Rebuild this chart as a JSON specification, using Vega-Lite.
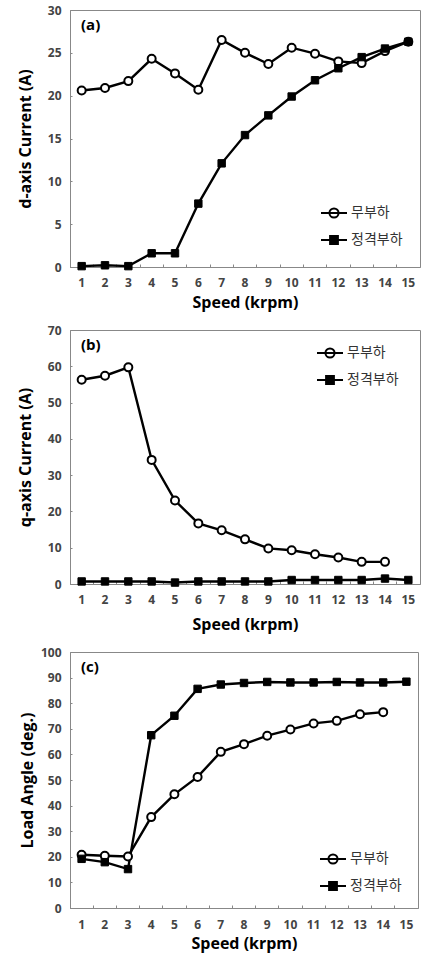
{
  "$schema": "https://vega.github.io/schema/vega-lite/v6.json",
  "background": "white",
  "padding": {"top": 3, "left": 16, "right": 2, "bottom": 2},
  "spacing": 12,
  "resolve": {
    "scale": {"shape": "independent", "fill": "independent", "stroke": "independent"},
    "legend": {"shape": "independent", "fill": "independent", "stroke": "independent"}
  },
  "config": {
    "view": {"stroke": "#888", "strokeWidth": 1},
    "axis": {
      "domainColor": "#888", "tickColor": "#888", "grid": false,
      "labelFont": "Open Sans", "labelFontSize": 12, "labelFontWeight": "bold", "labelColor": "#444",
      "titleFont": "Open Sans", "titleFontSize": 16, "titleFontWeight": "bold", "titleColor": "black"
    },
    "legend": {"title": null, "symbolSize": 676, "symbolStrokeWidth": 2, "symbolStrokeColor": "black", "symbolOpacity": 1, "labelFont": "Noto Sans CJK KR", "labelFontSize": 14, "labelColor": "#333", "labelOffset": 3, "rowPadding": 4, "padding": 0},
    "title": {"font": "Open Sans", "fontSize": 15, "fontWeight": "bold", "color": "black", "anchor": "start", "frame": "group"}
  },
  "data": {"values": [
    {"panel": "a", "series": "무부하", "speed": 1, "value": 20.6},
    {"panel": "a", "series": "무부하", "speed": 2, "value": 20.9},
    {"panel": "a", "series": "무부하", "speed": 3, "value": 21.7},
    {"panel": "a", "series": "무부하", "speed": 4, "value": 24.3},
    {"panel": "a", "series": "무부하", "speed": 5, "value": 22.6},
    {"panel": "a", "series": "무부하", "speed": 6, "value": 20.7},
    {"panel": "a", "series": "무부하", "speed": 7, "value": 26.5},
    {"panel": "a", "series": "무부하", "speed": 8, "value": 25.0},
    {"panel": "a", "series": "무부하", "speed": 9, "value": 23.7},
    {"panel": "a", "series": "무부하", "speed": 10, "value": 25.6},
    {"panel": "a", "series": "무부하", "speed": 11, "value": 24.9},
    {"panel": "a", "series": "무부하", "speed": 12, "value": 24.0},
    {"panel": "a", "series": "무부하", "speed": 13, "value": 23.8},
    {"panel": "a", "series": "무부하", "speed": 14, "value": 25.2},
    {"panel": "a", "series": "무부하", "speed": 15, "value": 26.3},
    {"panel": "a", "series": "정격부하", "speed": 1, "value": 0.1},
    {"panel": "a", "series": "정격부하", "speed": 2, "value": 0.2},
    {"panel": "a", "series": "정격부하", "speed": 3, "value": 0.1},
    {"panel": "a", "series": "정격부하", "speed": 4, "value": 1.6},
    {"panel": "a", "series": "정격부하", "speed": 5, "value": 1.6},
    {"panel": "a", "series": "정격부하", "speed": 6, "value": 7.4},
    {"panel": "a", "series": "정격부하", "speed": 7, "value": 12.1},
    {"panel": "a", "series": "정격부하", "speed": 8, "value": 15.4},
    {"panel": "a", "series": "정격부하", "speed": 9, "value": 17.7},
    {"panel": "a", "series": "정격부하", "speed": 10, "value": 19.9},
    {"panel": "a", "series": "정격부하", "speed": 11, "value": 21.8},
    {"panel": "a", "series": "정격부하", "speed": 12, "value": 23.2},
    {"panel": "a", "series": "정격부하", "speed": 13, "value": 24.5},
    {"panel": "a", "series": "정격부하", "speed": 14, "value": 25.5},
    {"panel": "a", "series": "정격부하", "speed": 15, "value": 26.3},
    {"panel": "b", "series": "무부하", "speed": 1, "value": 56.3},
    {"panel": "b", "series": "무부하", "speed": 2, "value": 57.4},
    {"panel": "b", "series": "무부하", "speed": 3, "value": 59.7},
    {"panel": "b", "series": "무부하", "speed": 4, "value": 34.2},
    {"panel": "b", "series": "무부하", "speed": 5, "value": 23.0},
    {"panel": "b", "series": "무부하", "speed": 6, "value": 16.7},
    {"panel": "b", "series": "무부하", "speed": 7, "value": 14.8},
    {"panel": "b", "series": "무부하", "speed": 8, "value": 12.3},
    {"panel": "b", "series": "무부하", "speed": 9, "value": 9.8},
    {"panel": "b", "series": "무부하", "speed": 10, "value": 9.3},
    {"panel": "b", "series": "무부하", "speed": 11, "value": 8.2},
    {"panel": "b", "series": "무부하", "speed": 12, "value": 7.3},
    {"panel": "b", "series": "무부하", "speed": 13, "value": 6.1},
    {"panel": "b", "series": "무부하", "speed": 14, "value": 6.1},
    {"panel": "b", "series": "정격부하", "speed": 1, "value": 0.7},
    {"panel": "b", "series": "정격부하", "speed": 2, "value": 0.7},
    {"panel": "b", "series": "정격부하", "speed": 3, "value": 0.7},
    {"panel": "b", "series": "정격부하", "speed": 4, "value": 0.7},
    {"panel": "b", "series": "정격부하", "speed": 5, "value": 0.4},
    {"panel": "b", "series": "정격부하", "speed": 6, "value": 0.7},
    {"panel": "b", "series": "정격부하", "speed": 7, "value": 0.7},
    {"panel": "b", "series": "정격부하", "speed": 8, "value": 0.7},
    {"panel": "b", "series": "정격부하", "speed": 9, "value": 0.7},
    {"panel": "b", "series": "정격부하", "speed": 10, "value": 1.1},
    {"panel": "b", "series": "정격부하", "speed": 11, "value": 1.1},
    {"panel": "b", "series": "정격부하", "speed": 12, "value": 1.1},
    {"panel": "b", "series": "정격부하", "speed": 13, "value": 1.1},
    {"panel": "b", "series": "정격부하", "speed": 14, "value": 1.5},
    {"panel": "b", "series": "정격부하", "speed": 15, "value": 1.1},
    {"panel": "c", "series": "무부하", "speed": 1, "value": 20.8},
    {"panel": "c", "series": "무부하", "speed": 2, "value": 20.4},
    {"panel": "c", "series": "무부하", "speed": 3, "value": 20.1},
    {"panel": "c", "series": "무부하", "speed": 4, "value": 35.5},
    {"panel": "c", "series": "무부하", "speed": 5, "value": 44.4},
    {"panel": "c", "series": "무부하", "speed": 6, "value": 51.2},
    {"panel": "c", "series": "무부하", "speed": 7, "value": 61.0},
    {"panel": "c", "series": "무부하", "speed": 8, "value": 64.0},
    {"panel": "c", "series": "무부하", "speed": 9, "value": 67.3},
    {"panel": "c", "series": "무부하", "speed": 10, "value": 69.7},
    {"panel": "c", "series": "무부하", "speed": 11, "value": 72.1},
    {"panel": "c", "series": "무부하", "speed": 12, "value": 73.1},
    {"panel": "c", "series": "무부하", "speed": 13, "value": 75.7},
    {"panel": "c", "series": "무부하", "speed": 14, "value": 76.5},
    {"panel": "c", "series": "정격부하", "speed": 1, "value": 19.2},
    {"panel": "c", "series": "정격부하", "speed": 2, "value": 17.9},
    {"panel": "c", "series": "정격부하", "speed": 3, "value": 15.2},
    {"panel": "c", "series": "정격부하", "speed": 4, "value": 67.5},
    {"panel": "c", "series": "정격부하", "speed": 5, "value": 75.1},
    {"panel": "c", "series": "정격부하", "speed": 6, "value": 85.6},
    {"panel": "c", "series": "정격부하", "speed": 7, "value": 87.3},
    {"panel": "c", "series": "정격부하", "speed": 8, "value": 87.9},
    {"panel": "c", "series": "정격부하", "speed": 9, "value": 88.3},
    {"panel": "c", "series": "정격부하", "speed": 10, "value": 88.1},
    {"panel": "c", "series": "정격부하", "speed": 11, "value": 88.1},
    {"panel": "c", "series": "정격부하", "speed": 12, "value": 88.3},
    {"panel": "c", "series": "정격부하", "speed": 13, "value": 88.1},
    {"panel": "c", "series": "정격부하", "speed": 14, "value": 88.1},
    {"panel": "c", "series": "정격부하", "speed": 15, "value": 88.4}
  ]},
  "vconcat": [
    {
      "width": 350, "height": 257,
      "title": {"text": "(a)", "dx": 11, "offset": -29},
      "transform": [{"filter": "datum.panel == 'a'"}],
      "encoding": {
        "x": {"field": "speed", "type": "ordinal", "scale": {"type": "band", "paddingInner": 0, "paddingOuter": 0},
              "axis": {"title": "Speed (krpm)", "labelAngle": 0, "bandPosition": 0, "tickSize": -3, "labelPadding": 13, "titlePadding": 6}},
        "y": {"field": "value", "type": "quantitative", "scale": {"domain": [0, 30], "nice": false},
              "axis": {"title": "d-axis Current (A)", "values": [0, 5, 10, 15, 20, 25, 30], "tickSize": -2, "labelPadding": 11, "titlePadding": 14}}
      },
      "layer": [
        {"mark": {"type": "line", "color": "black", "strokeWidth": 2.4}, "encoding": {"detail": {"field": "series"}}},
        {"transform": [{"filter": "datum.series == '무부하'"}], "mark": {"type": "point", "shape": "circle", "filled": true, "fill": "white", "stroke": "black", "strokeWidth": 2, "size": 64, "opacity": 1}},
        {"transform": [{"filter": "datum.series == '정격부하'"}], "mark": {"type": "point", "shape": "square", "filled": true, "fill": "black", "stroke": "black", "strokeWidth": 1, "size": 55, "opacity": 1}},
        {"transform": [{"filter": "false"}], "mark": {"type": "point", "filled": true, "strokeWidth": 2, "opacity": 1},
         "encoding": {
           "shape": {"field": "series", "type": "nominal", "scale": {"domain": ["무부하", "정격부하"], "range": ["M-1,0L1,0M0.35,0A0.35,0.35,0,1,1,-0.35,0A0.35,0.35,0,1,1,0.35,0", "M-1,0L1,0M-0.3,-0.3L0.3,-0.3L0.3,0.3L-0.3,0.3Z"]},
                     "legend": {"orient": "none", "legendX": 250, "legendY": 189}},
           "fill": {"field": "series", "type": "nominal", "scale": {"domain": ["무부하", "정격부하"], "range": ["white", "black"]},
                     "legend": {"orient": "none", "legendX": 250, "legendY": 189}},
           "stroke": {"field": "series", "type": "nominal", "scale": {"domain": ["무부하", "정격부하"], "range": ["black", "black"]},
                     "legend": {"orient": "none", "legendX": 250, "legendY": 189}}
         }}
      ]
    },
    {
      "width": 350, "height": 254,
      "title": {"text": "(b)", "dx": 11, "offset": -29},
      "transform": [{"filter": "datum.panel == 'b'"}],
      "encoding": {
        "x": {"field": "speed", "type": "ordinal", "scale": {"type": "band", "paddingInner": 0, "paddingOuter": 0},
              "axis": {"title": "Speed (krpm)", "labelAngle": 0, "bandPosition": 0, "tickSize": -3, "labelPadding": 13, "titlePadding": 11}},
        "y": {"field": "value", "type": "quantitative", "scale": {"domain": [0, 70], "nice": false},
              "axis": {"title": "q-axis Current (A)", "values": [0, 10, 20, 30, 40, 50, 60, 70], "tickSize": -2, "labelPadding": 11, "titlePadding": 14}}
      },
      "layer": [
        {"mark": {"type": "line", "color": "black", "strokeWidth": 2.4}, "encoding": {"detail": {"field": "series"}}},
        {"transform": [{"filter": "datum.series == '무부하'"}], "mark": {"type": "point", "shape": "circle", "filled": true, "fill": "white", "stroke": "black", "strokeWidth": 2, "size": 64, "opacity": 1}},
        {"transform": [{"filter": "datum.series == '정격부하'"}], "mark": {"type": "point", "shape": "square", "filled": true, "fill": "black", "stroke": "black", "strokeWidth": 1, "size": 55, "opacity": 1}},
        {"transform": [{"filter": "false"}], "mark": {"type": "point", "filled": true, "strokeWidth": 2, "opacity": 1},
         "encoding": {
           "shape": {"field": "series", "type": "nominal", "scale": {"domain": ["무부하", "정격부하"], "range": ["M-1,0L1,0M0.35,0A0.35,0.35,0,1,1,-0.35,0A0.35,0.35,0,1,1,0.35,0", "M-1,0L1,0M-0.3,-0.3L0.3,-0.3L0.3,0.3L-0.3,0.3Z"]},
                     "legend": {"orient": "none", "legendX": 246, "legendY": 9}},
           "fill": {"field": "series", "type": "nominal", "scale": {"domain": ["무부하", "정격부하"], "range": ["white", "black"]},
                     "legend": {"orient": "none", "legendX": 246, "legendY": 9}},
           "stroke": {"field": "series", "type": "nominal", "scale": {"domain": ["무부하", "정격부하"], "range": ["black", "black"]},
                     "legend": {"orient": "none", "legendX": 246, "legendY": 9}}
         }}
      ]
    },
    {
      "width": 348, "height": 256,
      "title": {"text": "(c)", "dx": 11, "offset": -29},
      "transform": [{"filter": "datum.panel == 'c'"}],
      "encoding": {
        "x": {"field": "speed", "type": "ordinal", "scale": {"type": "band", "paddingInner": 0, "paddingOuter": 0},
              "axis": {"title": "Speed (krpm)", "labelAngle": 0, "bandPosition": 0, "tickSize": -3, "labelPadding": 14, "titlePadding": 5}},
        "y": {"field": "value", "type": "quantitative", "scale": {"domain": [0, 100], "nice": false},
              "axis": {"title": "Load Angle (deg.)", "values": [0, 10, 20, 30, 40, 50, 60, 70, 80, 90, 100], "tickSize": -2, "labelPadding": 11, "titlePadding": 5}}
      },
      "layer": [
        {"mark": {"type": "line", "color": "black", "strokeWidth": 2.4}, "encoding": {"detail": {"field": "series"}}},
        {"transform": [{"filter": "datum.series == '무부하'"}], "mark": {"type": "point", "shape": "circle", "filled": true, "fill": "white", "stroke": "black", "strokeWidth": 2, "size": 64, "opacity": 1}},
        {"transform": [{"filter": "datum.series == '정격부하'"}], "mark": {"type": "point", "shape": "square", "filled": true, "fill": "black", "stroke": "black", "strokeWidth": 1, "size": 55, "opacity": 1}},
        {"transform": [{"filter": "false"}], "mark": {"type": "point", "filled": true, "strokeWidth": 2, "opacity": 1},
         "encoding": {
           "shape": {"field": "series", "type": "nominal", "scale": {"domain": ["무부하", "정격부하"], "range": ["M-1,0L1,0M0.35,0A0.35,0.35,0,1,1,-0.35,0A0.35,0.35,0,1,1,0.35,0", "M-1,0L1,0M-0.3,-0.3L0.3,-0.3L0.3,0.3L-0.3,0.3Z"]},
                     "legend": {"orient": "none", "legendX": 249, "legendY": 193}},
           "fill": {"field": "series", "type": "nominal", "scale": {"domain": ["무부하", "정격부하"], "range": ["white", "black"]},
                     "legend": {"orient": "none", "legendX": 249, "legendY": 193}},
           "stroke": {"field": "series", "type": "nominal", "scale": {"domain": ["무부하", "정격부하"], "range": ["black", "black"]},
                     "legend": {"orient": "none", "legendX": 249, "legendY": 193}}
         }}
      ]
    }
  ]
}
